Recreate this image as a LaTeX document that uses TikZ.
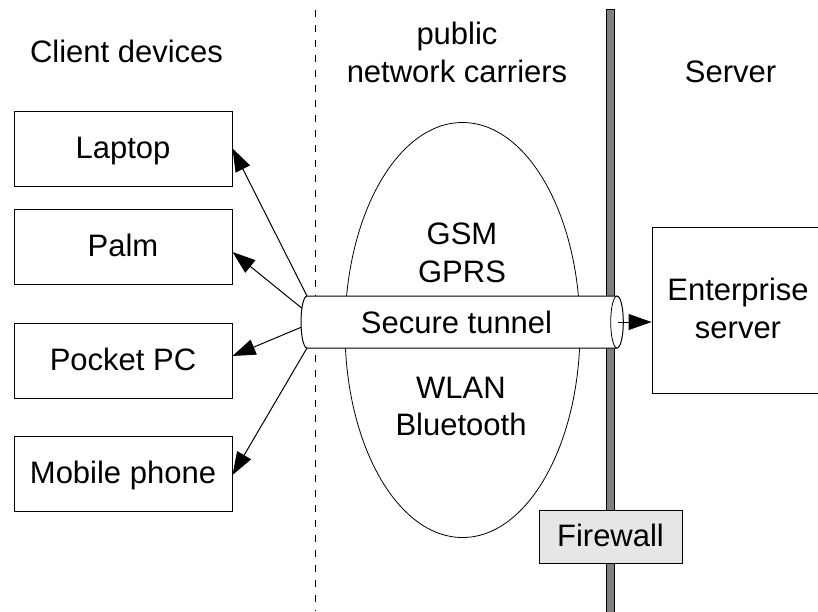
\documentclass[tikz,border=0pt]{standalone}
\usepackage{fontspec}
\setmainfont{Liberation Sans}
\usetikzlibrary{arrows.meta,calc}
\definecolor{bargray}{HTML}{808080}
\definecolor{fwgray}{HTML}{E6E6E6}
\begin{document}
\begin{tikzpicture}[x=1pt,y=-1pt,
  every node/.style={font=\fontsize{31}{37.5}\selectfont, inner sep=0pt},
  devbox/.style={draw, line width=1pt, minimum width=218pt, minimum height=75pt, text height=21pt, text depth=1pt},
  arr/.style={line width=1pt, -{Triangle[length=23pt,width=16pt]}},
  txt/.style={anchor=base, align=center}]
\useasboundingbox (0,0) rectangle (818,611);
% dashed separator
\draw[line width=1pt, dash pattern=on 7pt off 8pt] (315.5,10) -- (315.5,611);
% firewall bar
\draw[fill=bargray, line width=1pt] (606,9) rectangle (614,616);
% carriers ellipse
\draw[fill=white, line width=0.8pt] (462.5,330) ellipse [x radius=117.5, y radius=207.5];
\node[txt] (gsm) at (462,282) {GSM\\GPRS};
\node[txt] (wlan) at (461,435.5) {WLAN\\Bluetooth};
% tunnel
\draw[fill=white, line width=1pt] (307,296) -- (617,296)
  arc[start angle=-90, end angle=90, x radius=6.3, y radius=26] -- (307,348)
  arc[start angle=90, end angle=270, x radius=6, y radius=26] -- cycle;
\draw[line width=0.8pt] (617,296) arc[start angle=-90, end angle=-270, x radius=6.3, y radius=26];
\node[anchor=base] (tun) at (456.5,333) {Secure tunnel};
\coordinate (t1) at (307,296);
\coordinate (t2) at (302,308.3);
\coordinate (t3) at (301,327.3);
\coordinate (t4) at (307,348);
\coordinate (tR) at (617.5,322);
% headers
\node[anchor=base] (hclient) at (126.5,62) {Client devices};
\node[txt] (hpub) at (457,82) {public\\network carriers};
\node[anchor=base] (hserver) at (730.5,82) {Server};
% devices
\node[devbox] (laptop) at (123,148.5) {Laptop};
\node[devbox] (palm) at (123,246.5) {Palm};
\node[devbox] (pocket) at (123,360.5) {Pocket PC};
\node[devbox] (mobile) at (123,473.5) {Mobile phone};
% server
\node[draw, line width=1pt, minimum width=170pt, minimum height=166pt] (ent) at (737,310) {};
\node[txt] (enttxt) at (738,338) {Enterprise\\server};
% firewall
\node[draw, fill=fwgray, line width=1pt, minimum width=143pt, minimum height=53pt, text height=21pt, text depth=1pt] (fw) at (610.5,536.5) {Firewall};
% arrows
\draw[arr] (t1) -- (laptop.east);
\draw[arr] (t2) -- ([yshift=-5.5pt]palm.east);
\draw[arr] (t3) -- ([yshift=4.5pt]pocket.east);
\draw[arr] (t4) -- ([yshift=-1.5pt]mobile.east);
\draw[arr] (tR) -- (tR -| ent.west);
\end{tikzpicture}
\end{document}
